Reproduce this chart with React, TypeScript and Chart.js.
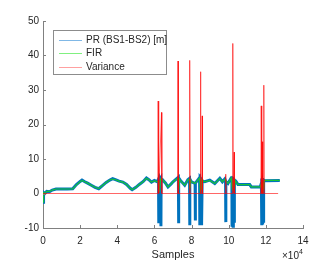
import React, { useEffect, useRef } from 'react';
import { Chart, registerables } from 'chart.js';

Chart.register(...registerables);

// PR (BS1-BS2) [m]
const prSamples = [0, 300, 1000, 2000, 3500, 5000, 7000, 10000, 13000, 16000, 18000, 20000, 21000, 22500, 24000, 26000, 28000, 30000, 32000, 34000, 36000, 37500, 39000, 41000, 43000, 45000, 47000, 48000, 50000, 52000, 54000, 55700, 57000, 58400, 60000, 61500, 62200, 62300, 62400, 62500, 62600, 63400, 63500, 63600, 64000, 66000, 67300, 69000, 70000, 72000, 72900, 73000, 73100, 74000, 76300, 78000, 78900, 79000, 79100, 79900, 81900, 82000, 82100, 84300, 84400, 84500, 84600, 85100, 85200, 85300, 85500, 85600, 85700, 87100, 89800, 92500, 95200, 96600, 97900, 98300, 98400, 98500, 99600, 101400, 101700, 101800, 101900, 102300, 102400, 102500, 102900, 103000, 103100, 103800, 105000, 111300, 112200, 117000, 117600, 117700, 117800, 117900, 118000, 118100, 118300, 118400, 118500, 118700, 118800, 118900, 119500, 127500];
const prValues = [-2.5, 0.3, 0.0, 0.6, 0.5, 1.0, 1.3, 1.3, 1.3, 1.4, 2.6, 3.5, 3.9, 3.4, 3.0, 2.4, 1.8, 1.4, 2.3, 3.2, 3.9, 4.3, 4.0, 3.6, 3.3, 2.6, 1.5, 1.1, 1.8, 2.7, 3.5, 4.5, 4.0, 3.3, 3.8, 3.4, 4.2, -8.6, 3.9, -8.0, 4.0, 4.6, -9.5, 4.3, 4.2, 3.0, 1.9, 2.8, 3.4, 4.3, 4.7, -8.6, 4.5, 3.8, 2.4, 4.0, 4.4, -9.2, 4.2, 3.4, 2.9, -7.8, 3.0, 4.6, 4.8, -9.2, 4.6, 4.2, -9.2, 4.0, 3.8, -8.5, 3.7, 3.4, 3.9, 2.9, 4.4, 3.4, 4.2, 3.6, -8.3, 3.4, 2.9, 4.6, 4.8, -9.2, 4.7, 4.4, -9.5, 4.2, 4.0, -8.5, 3.9, 3.6, 2.6, 2.6, 1.9, 1.9, 3.0, -9.0, 4.2, -9.2, 4.5, -8.8, 4.2, -9.0, 4.0, 3.8, -8.5, 3.9, 3.7, 3.8];

// FIR
const firSamples = [0, 300, 1000, 2000, 3500, 5000, 7000, 16000, 18000, 20000, 21000, 22500, 24000, 26000, 28000, 30000, 32000, 34000, 36000, 37500, 39000, 41000, 43000, 45000, 47000, 48000, 50000, 52000, 54000, 55700, 57000, 58400, 60000, 61500, 62300, 62800, 63300, 64000, 66000, 67300, 69000, 70000, 72000, 72800, 73100, 73500, 74000, 76300, 78000, 78900, 79100, 79500, 79900, 81900, 84300, 84700, 85200, 85600, 86000, 87100, 89800, 92500, 95200, 96600, 97900, 99600, 101400, 102000, 102600, 103100, 103500, 105000, 111300, 112200, 117000, 117600, 118000, 118400, 118800, 119200, 127500];
const firValues = [-2.5, 0.3, 0.1, 0.6, 0.6, 1.0, 1.3, 1.3, 2.5, 3.4, 3.8, 3.4, 3.0, 2.4, 1.8, 1.4, 2.3, 3.2, 3.9, 4.2, 4.0, 3.6, 3.3, 2.6, 1.5, 1.1, 1.8, 2.7, 3.5, 4.4, 4.0, 3.3, 3.7, 3.4, 3.5, 0.5, 4.3, 4.1, 3.0, 1.9, 2.8, 3.4, 4.2, 4.4, 1.0, 4.2, 3.7, 2.4, 3.9, 4.2, 1.5, 3.8, 3.4, 2.9, 4.5, 0.3, 4.3, 1.0, 3.8, 3.4, 3.8, 2.9, 4.3, 3.4, 4.1, 2.9, 4.5, 0.8, 4.3, 1.5, 3.7, 2.6, 2.6, 1.9, 1.9, 2.8, 0.5, 3.5, 1.2, 3.8, 3.8];

// Variance
const varSamples = [0, 61800, 62000, 62200, 62400, 63800, 64000, 72500, 72700, 72900, 78800, 79000, 79200, 84600, 84800, 85000, 85500, 85700, 85900, 98200, 98400, 98600, 102000, 102200, 102400, 102700, 102900, 103100, 117300, 117500, 117700, 117900, 118100, 118300, 118700, 118900, 119100, 126600];
const varValues = [0, 0, 26.8, 0, 0, 23.5, 0, 0, 38.4, 0, 0, 38.6, 0, 0, 35.3, 0, 0, 22.5, 0, 0, 5.6, 0, 0, 43.5, 0, 0, 12, 0, 0, 25.4, 0, 0, 15, 0, 0, 31.4, 0, 0];

const seriesLabels = ['PR (BS1-BS2) [m]', 'FIR', 'Variance'];
const seriesColors = ['#0072BD', 'rgb(24,196,56)', 'rgba(255,0,0,0.6)'];
const legendColors = ['#80b8e6', '#80f080', '#ffa0a0'];
const xAxisTitle = 'Samples';
const xExponent = '4';

const FONT = '"Liberation Sans", Arial, Helvetica, sans-serif';
const AXIS = '#808080';
const TEXT = '#262626';

const pts = (xs: number[], ys: number[]) => xs.map((x, i) => ({ x, y: ys[i] }));

const matlabPlugin = {
  id: 'matlabDecor',
  afterDatasetsDraw(chart: any) {
    const { ctx, chartArea: a, scales } = chart;
    const x = scales.x;
    const y = scales.y;
    ctx.save();
    ctx.strokeStyle = AXIS;
    ctx.lineWidth = 1;
    ctx.beginPath();
    for (const t of x.ticks) {
      const px = Math.round(x.getPixelForValue(t.value)) + 0.5;
      ctx.moveTo(px, a.bottom);
      ctx.lineTo(px, a.bottom - 3);
    }
    for (const t of y.ticks) {
      const py = Math.round(y.getPixelForValue(t.value)) + 0.5;
      ctx.moveTo(a.left, py);
      ctx.lineTo(a.left + 3, py);
    }
    ctx.stroke();

    // legend
    const lx = 53.5, ly = 30.5, lw = 113, lh = 44;
    ctx.fillStyle = '#ffffff';
    ctx.fillRect(lx, ly, lw, lh);
    ctx.strokeStyle = '#8c8c8c';
    ctx.strokeRect(lx, ly, lw, lh);
    const rows = [40.5, 53.5, 67.5];
    ctx.font = `10px ${FONT}`;
    ctx.textBaseline = 'middle';
    ctx.textAlign = 'left';
    seriesLabels.forEach((label, i) => {
      ctx.strokeStyle = legendColors[i];
      ctx.lineWidth = 1;
      ctx.beginPath();
      ctx.moveTo(59, rows[i]);
      ctx.lineTo(82, rows[i]);
      ctx.stroke();
      ctx.fillStyle = TEXT;
      ctx.fillText(label, 86, rows[i]);
    });

    ctx.fillStyle = TEXT;
    ctx.textAlign = 'center';
    ctx.textBaseline = 'middle';
    ctx.font = `11px ${FONT}`;
    ctx.fillText(xAxisTitle, (a.left + a.right) / 2, 254.5);
    ctx.textAlign = 'left';
    ctx.textBaseline = 'alphabetic';
    ctx.font = `10px ${FONT}`;
    ctx.fillText('\u00d710', 282, 259);
    ctx.font = `7px ${FONT}`;
    ctx.fillText(xExponent, 299, 254);
    ctx.restore();
  },
};

export default function App() {
  const ref = useRef<HTMLCanvasElement | null>(null);
  useEffect(() => {
    if (!ref.current) return;
    const chart = new Chart(ref.current, {
      type: 'line',
      data: {
        datasets: [
          { label: seriesLabels[0], data: pts(prSamples, prValues), borderColor: seriesColors[0], borderWidth: 3, pointRadius: 0, tension: 0, order: 3 },
          { label: seriesLabels[1], data: pts(firSamples, firValues), borderColor: seriesColors[1], borderWidth: 1.2, pointRadius: 0, tension: 0, order: 2 },
          { label: seriesLabels[2], data: pts(varSamples, varValues), borderColor: seriesColors[2], borderWidth: 1, pointRadius: 0, tension: 0, order: 1 },
        ],
      },
      options: {
        responsive: false,
        animation: false,
        parsing: false as any,
        normalized: true,
        layout: { padding: { left: 0, right: 33, top: 21, bottom: 0 } },
        plugins: { legend: { display: false }, tooltip: { enabled: false } },
        scales: {
          x: {
            type: 'linear',
            min: 0,
            max: 140000,
            grid: { display: false, drawTicks: false },
            border: { display: true, color: AXIS, width: 1 },
            ticks: { stepSize: 20000, padding: 7, color: TEXT, font: { family: FONT, size: 10 }, callback: (v: any) => String(v / 10000), maxRotation: 0 },
            afterFit: (s: any) => { s.height = 34; },
          },
          y: {
            type: 'linear',
            min: -10,
            max: 50,
            grid: { display: false, drawTicks: false },
            border: { display: true, color: AXIS, width: 1 },
            ticks: { stepSize: 10, padding: 4, color: TEXT, font: { family: FONT, size: 10 } },
            afterFit: (s: any) => { s.width = 43; },
          },
        },
      },
      plugins: [matlabPlugin],
    });
    return () => chart.destroy();
  }, []);
  return (
    <div style={{ position: 'absolute', left: 0, top: 0, width: 336, height: 262, background: '#fff' }}>
      <canvas ref={ref} width={336} height={262} style={{ display: 'block' }} />
    </div>
  );
}
